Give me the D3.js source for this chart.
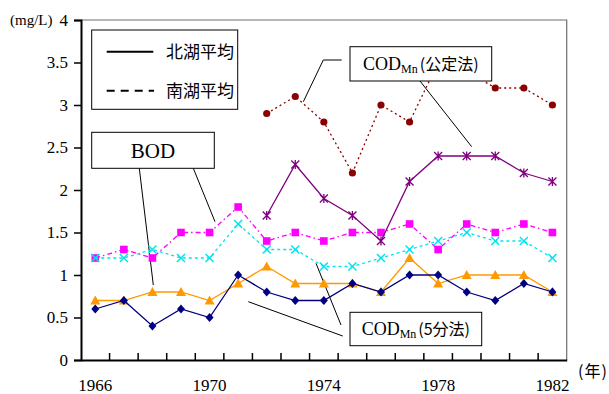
<!DOCTYPE html>
<html><head><meta charset="utf-8">
<script src="https://cdn.jsdelivr.net/npm/d3@7/dist/d3.min.js"></script>
</head>
<body style="margin:0">
<svg id="c" width="609" height="394"></svg>
<script>
const years = ["1966","1967","1968","1969","1970","1971","1972","1973","1974","1975","1976","1977","1978","1979","1980","1981","1982"];
const labelYears = ["1966","1970","1974","1978","1982"];
const yTicks = [0,0.5,1,1.5,2,2.5,3,3.5,4];
// BOD
const bodNorth = [0.7,0.7,0.8,0.8,0.7,0.9,1.1,0.9,0.9,0.9,0.8,1.2,0.9,1.0,1.0,1.0,0.8];
const bodSouth = [1.2,1.3,1.2,1.5,1.5,1.8,1.4,1.5,1.4,1.5,1.5,1.6,1.3,1.6,1.5,1.6,1.5];
// COD Mn (5 fun-ho)
const cod5North = [0.6,0.7,0.4,0.6,0.5,1.0,0.8,0.7,0.7,0.9,0.8,1.0,1.0,0.8,0.7,0.9,0.8];
const cod5South = [1.2,1.2,1.3,1.2,1.2,1.6,1.3,1.3,1.1,1.1,1.2,1.3,1.4,1.5,1.4,1.4,1.2];
// COD Mn (koutei-ho)
const codKNorth = [null,null,null,null,null,null,1.7,2.3,1.9,1.7,1.4,2.1,2.4,2.4,2.4,2.2,2.1];
const codKSouth = [null,null,null,null,null,null,2.9,3.1,2.8,2.2,3.0,2.8,3.5,3.4,3.2,3.2,3.0];
// labels (unicode escapes)
const legendNames = ["\u5317\u6e56\u5e73\u5747","\u5357\u6e56\u5e73\u5747"];
const methodK = "\u516c\u5b9a\u6cd5";
const method5 = "5\u5206\u6cd5";
const yearUnit = "(\u5e74)";

const SERIF = "Liberation Serif";
const CJK = "Noto Sans CJK JP";

const svg = d3.select("#c");
svg.append("rect").attr("width",609).attr("height",394).attr("fill","#fff");
const L=81, R=566.7, T=20, B=360;
const x = d3.scaleBand().domain(years).range([L,R]).padding(0);
const y = d3.scaleLinear().domain([0,4]).range([B,T]);
const cx = d => x(d)+x.bandwidth()/2;

// frame top/right
svg.append("path").attr("d",`M${L},${T}H${R}V${B}`).attr("fill","none").attr("stroke","#6e6e6e").attr("stroke-width",1.2);

// y axis
const ya = svg.append("g").attr("transform",`translate(${L},0)`)
  .call(d3.axisLeft(y).tickValues(yTicks).tickSize(7).tickPadding(6).tickFormat(d3.format("~g")));
ya.attr("font-family",SERIF).attr("font-size",17);
ya.select(".domain").attr("stroke","#000").attr("stroke-width",2);
ya.selectAll(".tick line").attr("stroke","#000").attr("stroke-width",1.5);
ya.selectAll("text").attr("font-family",SERIF).attr("fill","#000");

// x axis
const xa = svg.append("g").attr("transform",`translate(0,${B})`)
  .call(d3.axisBottom(x).tickValues(labelYears).tickSize(0).tickPadding(19));
xa.attr("font-family",SERIF).attr("font-size",17);
xa.select(".domain").attr("stroke","#000").attr("stroke-width",2);
xa.selectAll("text").attr("font-family",SERIF).attr("fill","#000");
// inward boundary ticks
svg.append("g").selectAll("line").data(years.slice(1)).join("line")
  .attr("x1",d=>x(d)).attr("x2",d=>x(d)).attr("y1",B).attr("y2",B-7)
  .attr("stroke","#000").attr("stroke-width",1.5);

// units
svg.append("text").attr("font-family",SERIF).attr("x",10).attr("y",25).attr("font-size",15).text("(mg/L)");
svg.append("text").attr("font-family",CJK).attr("x",578).attr("y",377).attr("font-size",16).attr("letter-spacing",1).text(yearUnit);

// callout lines
const callouts = [
  [[139.3,168.3],[153.3,285]],
  [[193.3,168.3],[215,221.7]],
  [[341.7,60],[323.3,60],[303.3,101.7]],
  [[420,81],[471.7,146.7]],
  [[342.7,336],[248.3,301.7]],
  [[341,325],[316,263.3]]
];
svg.append("g").selectAll("path").data(callouts).join("path")
  .attr("d",d=>d3.line()(d)).attr("fill","none").attr("stroke","#000").attr("stroke-width",1);

// series
const series = [
  {v:bodSouth, color:"#ff00ff", dash:"5,3,1.5,3", m:"square"},
  {v:cod5South, color:"#00e5ee", dash:"3,3", m:"x"},
  {v:codKSouth, color:"#8b0000", dash:"2,3", m:"circle"},
  {v:codKNorth, color:"#800080", dash:null, m:"star"},
  {v:bodNorth, color:"#ff9900", dash:null, m:"triangle"},
  {v:cod5North, color:"#000080", dash:null, m:"diamond"}
];
const line = d3.line().defined(d=>d.v!=null).x(d=>cx(d.yr)).y(d=>y(d.v));
series.forEach(s=>{
  const pts = years.map((yr,i)=>({yr, v:s.v[i]}));
  const g = svg.append("g");
  g.append("path").attr("d",line(pts)).attr("fill","none").attr("stroke",s.color)
    .attr("stroke-width",1.3).attr("stroke-dasharray",s.dash);
  const valid = pts.filter(d=>d.v!=null);
  const mg = g.selectAll("g").data(valid).join("g")
    .attr("transform",d=>`translate(${cx(d.yr)},${y(d.v)})`);
  if(s.m==="square") mg.append("rect").attr("x",-3.8).attr("y",-3.8).attr("width",7.6).attr("height",7.6).attr("fill",s.color);
  if(s.m==="circle") mg.append("circle").attr("r",3.6).attr("fill",s.color);
  if(s.m==="diamond") mg.append("path").attr("d","M0,-4.5L4,0L0,4.5L-4,0Z").attr("fill",s.color);
  if(s.m==="triangle") mg.append("path").attr("d","M0,-5L5,4L-5,4Z").attr("fill",s.color);
  if(s.m==="x") mg.append("path").attr("d","M-4,-4L4,4M-4,4L4,-4").attr("stroke",s.color).attr("stroke-width",1.5);
  if(s.m==="star") mg.append("path").attr("d","M-4,-4L4,4M-4,4L4,-4M0,-4.5V4.5").attr("stroke",s.color).attr("stroke-width",1.3);
});

// legend box
const lg = svg.append("g");
lg.append("rect").attr("x",91.7).attr("y",30).attr("width",146).attr("height",79.3).attr("fill","#fff").attr("stroke","#000").attr("stroke-width",1);
lg.append("line").attr("x1",106.7).attr("x2",153.3).attr("y1",51.7).attr("y2",51.7).attr("stroke","#000").attr("stroke-width",2);
lg.append("line").attr("x1",106.7).attr("x2",154).attr("y1",90.7).attr("y2",90.7).attr("stroke","#000").attr("stroke-width",2).attr("stroke-dasharray","8,6");
lg.append("text").attr("font-family",CJK).attr("x",166).attr("y",51.7).attr("dy","0.36em").attr("font-size",17).text(legendNames[0]);
lg.append("text").attr("font-family",CJK).attr("x",166).attr("y",90.7).attr("dy","0.36em").attr("font-size",17).text(legendNames[1]);

// BOD box
svg.append("rect").attr("x",91.7).attr("y",132.3).attr("width",122.6).attr("height",36).attr("fill","#fff").attr("stroke","#000").attr("stroke-width",1);
svg.append("text").attr("font-family",SERIF).attr("x",153).attr("y",151).attr("dy","0.35em").attr("text-anchor","middle").attr("font-size",21).text("BOD");

// COD boxes
function codBox(x0,y0,w,h,method){
  svg.append("rect").attr("x",x0).attr("y",y0).attr("width",w).attr("height",h).attr("fill","#fff").attr("stroke","#000").attr("stroke-width",1);
  const t = svg.append("text").attr("x",x0+w/2).attr("y",y0+h/2+6).attr("text-anchor","middle");
  t.append("tspan").attr("font-family",SERIF).attr("font-size",18).text("COD");
  t.append("tspan").attr("font-family",SERIF).attr("font-size",12).attr("dy",3).text("Mn");
  t.append("tspan").attr("font-family",CJK).attr("font-size",16).attr("dy",-3).attr("dx",2).text("(" + method + ")");
}
codBox(350,46.7,141.7,34.3,methodK);
codBox(350,312.3,131.7,33.4,method5);
</script>
</body></html>
